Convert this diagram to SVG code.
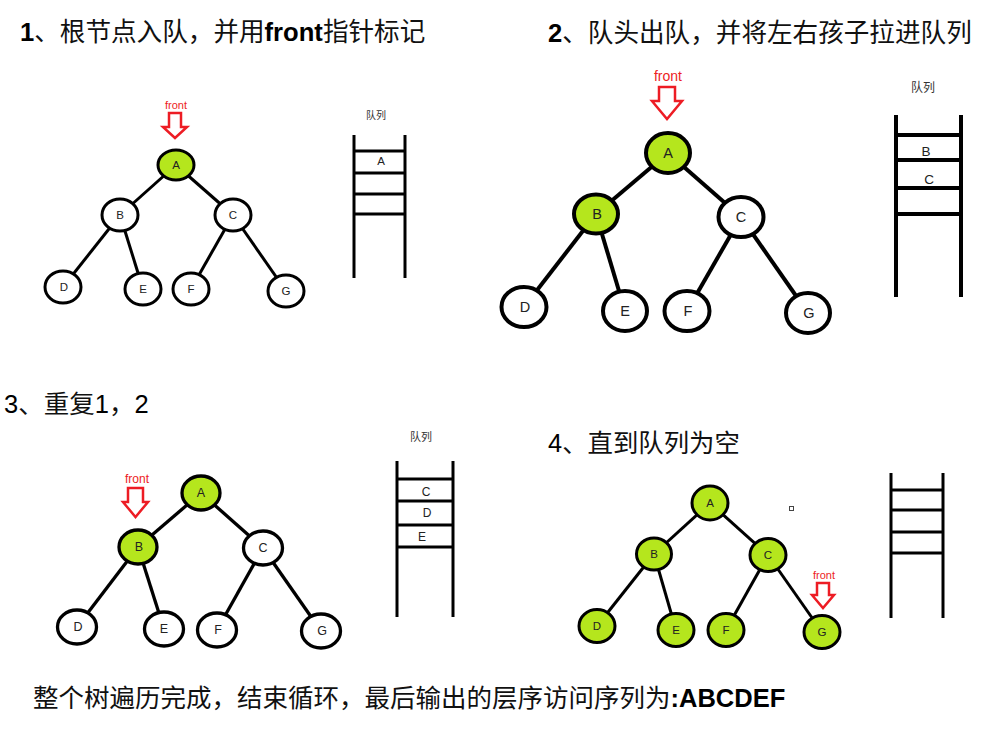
<svg xmlns="http://www.w3.org/2000/svg" width="985" height="735" viewBox="0 0 985 735">
<style>
.t{font-family:"Liberation Sans","Noto Sans CJK SC",sans-serif;fill:#000}
.cj{font-family:"Noto Sans CJK SC","Liberation Sans",sans-serif;fill:#111}
.b{font-weight:bold}
.lbl{font-family:"Liberation Sans","Noto Sans CJK SC",sans-serif;fill:#222;text-anchor:middle}
.ql{font-family:"Noto Sans CJK SC",sans-serif;fill:#333;text-anchor:middle}
.fr{font-family:"Liberation Sans",sans-serif;fill:#ed1c24;text-anchor:middle}
.arr{fill:#fff;stroke:#ed1c24;stroke-width:2.5;stroke-linejoin:miter}
.n{fill:#fff;stroke:#000}
.g{fill:#b5e61d;stroke:#000}
.e{stroke:#000;stroke-linecap:butt}
.q{stroke:#000;fill:none}
</style>
<rect width="985" height="735" fill="#fff"/>

<!-- titles -->
<text class="t" x="20" y="41" font-size="25.6"><tspan class="b">1</tspan><tspan class="cj">、根节点入队，并用</tspan><tspan class="b">front</tspan><tspan class="cj">指针标记</tspan></text>
<text class="t" x="548" y="42" font-size="25.6"><tspan class="b">2</tspan><tspan class="cj">、队头出队，并将左右孩子拉进队列</tspan></text>
<text class="t" x="4" y="413" font-size="25.5">3<tspan class="cj">、重复</tspan>1<tspan class="cj">，</tspan>2</text>
<text class="t" x="548" y="452" font-size="25.4">4<tspan class="cj">、直到队列为空</tspan></text>
<text class="t" x="33" y="707" font-size="25.5"><tspan class="cj">整个树遍历完成，结束循环，最后输出的层序访问序列为</tspan><tspan class="b">:ABCDEF</tspan></text>

<!-- connectors -->
<g id="connectors">
  <g stroke-width="3" class="e">
    <line x1="176" y1="165" x2="120" y2="215"/>
    <line x1="176" y1="165" x2="233" y2="215"/>
    <line x1="120" y1="215" x2="63" y2="287"/>
    <line x1="120" y1="215" x2="143" y2="289"/>
    <line x1="233" y1="215" x2="191" y2="289"/>
    <line x1="233" y1="215" x2="286" y2="291"/>
  </g>
  <g stroke-width="4" class="e">
    <line x1="668" y1="153" x2="596" y2="214"/>
    <line x1="668" y1="153" x2="741" y2="217"/>
    <line x1="596" y1="214" x2="524" y2="307"/>
    <line x1="596" y1="214" x2="625" y2="311"/>
    <line x1="741" y1="217" x2="687" y2="311"/>
    <line x1="741" y1="217" x2="808" y2="313"/>
  </g>
  <g stroke-width="3.3" class="e">
    <line x1="201" y1="493" x2="138" y2="547"/>
    <line x1="201" y1="493" x2="263" y2="548"/>
    <line x1="138" y1="547" x2="77" y2="627"/>
    <line x1="138" y1="547" x2="164" y2="629"/>
    <line x1="263" y1="548" x2="217" y2="630"/>
    <line x1="263" y1="548" x2="321" y2="631"/>
  </g>
  <g stroke-width="3" class="e">
    <line x1="710" y1="503" x2="654" y2="554"/>
    <line x1="710" y1="503" x2="768" y2="555"/>
    <line x1="654" y1="554" x2="597" y2="626"/>
    <line x1="654" y1="554" x2="676" y2="630"/>
    <line x1="768" y1="555" x2="726" y2="630"/>
    <line x1="768" y1="555" x2="822" y2="632"/>
  </g>
</g>

<!-- panel 1 -->
<g id="p1-front">
  <text class="fr" x="176" y="109" font-size="11">front</text>
  <path class="arr" d="M169,113 H181 V127 H187 L175,138 L163,127 H169 Z"/>
</g>
<g id="p1-A"><ellipse class="g" cx="176" cy="165" rx="18" ry="15" stroke-width="3"/><text class="lbl" x="176" y="169" font-size="11.5">A</text></g>
<g id="p1-B"><ellipse class="n" cx="120" cy="215" rx="18" ry="16" stroke-width="3"/><text class="lbl" x="120" y="219" font-size="11.5">B</text></g>
<g id="p1-C"><ellipse class="n" cx="233" cy="215" rx="18" ry="16" stroke-width="3"/><text class="lbl" x="233" y="219" font-size="11.5">C</text></g>
<g id="p1-D"><ellipse class="n" cx="63" cy="287" rx="18" ry="16" stroke-width="3"/><text class="lbl" x="64" y="291" font-size="11.5">D</text></g>
<g id="p1-E"><ellipse class="n" cx="143" cy="289" rx="18" ry="16" stroke-width="3"/><text class="lbl" x="143" y="293" font-size="11.5">E</text></g>
<g id="p1-F"><ellipse class="n" cx="191" cy="289" rx="18" ry="16" stroke-width="3"/><text class="lbl" x="191" y="293" font-size="11.5">F</text></g>
<g id="p1-G"><ellipse class="n" cx="286" cy="291" rx="18" ry="16" stroke-width="3"/><text class="lbl" x="286" y="295" font-size="11.5">G</text></g>
<g id="p1-queue">
  <text class="ql" x="376" y="119" font-size="10">队列</text>
  <g class="q" stroke-width="3">
    <line x1="354" y1="135" x2="354" y2="278"/>
    <line x1="405" y1="135" x2="405" y2="278"/>
    <line x1="354" y1="151" x2="405" y2="151"/>
    <line x1="354" y1="173" x2="405" y2="173"/>
    <line x1="354" y1="194" x2="405" y2="194"/>
    <line x1="354" y1="214" x2="405" y2="214"/>
  </g>
  <text class="lbl" x="381" y="165" font-size="11.5">A</text>
</g>

<!-- panel 2 -->
<g id="p2-front">
  <text class="fr" x="668" y="81" font-size="14">front</text>
  <path class="arr" d="M659,87 H675 V101 H682 L667,119 L652,101 H659 Z"/>
</g>
<g id="p2-A"><ellipse class="g" cx="668" cy="153" rx="22" ry="20" stroke-width="4"/><text class="lbl" x="668" y="158" font-size="14.5">A</text></g>
<g id="p2-B"><ellipse class="g" cx="596" cy="214" rx="22" ry="19.5" stroke-width="4"/><text class="lbl" x="597" y="219" font-size="14.5">B</text></g>
<g id="p2-C"><ellipse class="n" cx="741" cy="217" rx="22.5" ry="20" stroke-width="4"/><text class="lbl" x="741" y="222" font-size="14.5">C</text></g>
<g id="p2-D"><ellipse class="n" cx="524" cy="307" rx="22.5" ry="20" stroke-width="4"/><text class="lbl" x="525" y="312" font-size="14.5">D</text></g>
<g id="p2-E"><ellipse class="n" cx="625" cy="311" rx="22" ry="20" stroke-width="4"/><text class="lbl" x="625" y="316" font-size="14.5">E</text></g>
<g id="p2-F"><ellipse class="n" cx="687" cy="311" rx="22.5" ry="20" stroke-width="4"/><text class="lbl" x="688" y="316" font-size="14.5">F</text></g>
<g id="p2-G"><ellipse class="n" cx="808" cy="313" rx="22" ry="20" stroke-width="4"/><text class="lbl" x="809" y="318" font-size="14.5">G</text></g>
<g id="p2-queue">
  <text class="ql" x="923" y="92" font-size="12">队列</text>
  <g class="q" stroke-width="4">
    <line x1="896" y1="115" x2="896" y2="297"/>
    <line x1="961" y1="115" x2="961" y2="297"/>
    <line x1="896" y1="135" x2="961" y2="135"/>
    <line x1="896" y1="160" x2="961" y2="160"/>
    <line x1="896" y1="188" x2="961" y2="188"/>
    <line x1="896" y1="214" x2="961" y2="214"/>
  </g>
  <text class="lbl" x="926" y="156" font-size="13.5">B</text>
  <text class="lbl" x="929" y="184" font-size="13.5">C</text>
</g>

<!-- panel 3 -->
<g id="p3-front">
  <text class="fr" x="137" y="483" font-size="12">front</text>
  <path class="arr" d="M128,488 H143 V502 H148 L135.5,517 L123,502 H128 Z"/>
</g>
<g id="p3-A"><ellipse class="g" cx="201" cy="493" rx="19" ry="17" stroke-width="3.3"/><text class="lbl" x="201" y="497" font-size="12.5">A</text></g>
<g id="p3-B"><ellipse class="g" cx="138" cy="547" rx="19" ry="17" stroke-width="3.3"/><text class="lbl" x="139" y="551" font-size="12.5">B</text></g>
<g id="p3-C"><ellipse class="n" cx="263" cy="548" rx="19.5" ry="17" stroke-width="3.3"/><text class="lbl" x="263" y="552" font-size="12.5">C</text></g>
<g id="p3-D"><ellipse class="n" cx="77" cy="627" rx="19.5" ry="17" stroke-width="3.3"/><text class="lbl" x="78" y="631" font-size="12.5">D</text></g>
<g id="p3-E"><ellipse class="n" cx="164" cy="629" rx="19.5" ry="17" stroke-width="3.3"/><text class="lbl" x="164" y="633" font-size="12.5">E</text></g>
<g id="p3-F"><ellipse class="n" cx="217" cy="630" rx="19.5" ry="17" stroke-width="3.3"/><text class="lbl" x="218" y="634" font-size="12.5">F</text></g>
<g id="p3-G"><ellipse class="n" cx="321" cy="631" rx="19.5" ry="17" stroke-width="3.3"/><text class="lbl" x="322" y="635" font-size="12.5">G</text></g>
<g id="p3-queue">
  <text class="ql" x="421" y="441" font-size="11">队列</text>
  <g class="q" stroke-width="3">
    <line x1="397" y1="461" x2="397" y2="617"/>
    <line x1="453" y1="461" x2="453" y2="617"/>
    <line x1="397" y1="479" x2="453" y2="479"/>
    <line x1="397" y1="501" x2="453" y2="501"/>
    <line x1="397" y1="525" x2="453" y2="525"/>
    <line x1="397" y1="547" x2="453" y2="547"/>
  </g>
  <text class="lbl" x="426" y="496" font-size="12">C</text>
  <text class="lbl" x="427" y="517" font-size="12">D</text>
  <text class="lbl" x="422" y="541" font-size="12">E</text>
</g>

<!-- panel 4 -->
<g id="p4-A"><ellipse class="g" cx="710" cy="503" rx="18" ry="17" stroke-width="3"/><text class="lbl" x="710" y="507" font-size="11.5">A</text></g>
<g id="p4-B"><ellipse class="g" cx="654" cy="554" rx="17.5" ry="16" stroke-width="3"/><text class="lbl" x="654" y="558" font-size="11.5">B</text></g>
<g id="p4-C"><ellipse class="g" cx="768" cy="555" rx="18" ry="16.5" stroke-width="3"/><text class="lbl" x="768" y="559" font-size="11.5">C</text></g>
<g id="p4-D"><ellipse class="g" cx="597" cy="626" rx="18" ry="16.5" stroke-width="3"/><text class="lbl" x="597" y="630" font-size="11.5">D</text></g>
<g id="p4-E"><ellipse class="g" cx="676" cy="630" rx="18" ry="16.5" stroke-width="3"/><text class="lbl" x="676" y="634" font-size="11.5">E</text></g>
<g id="p4-F"><ellipse class="g" cx="726" cy="630" rx="18" ry="16.5" stroke-width="3"/><text class="lbl" x="726" y="634" font-size="11.5">F</text></g>
<g id="p4-G"><ellipse class="g" cx="822" cy="632" rx="18" ry="16.5" stroke-width="3"/><text class="lbl" x="822" y="636" font-size="11.5">G</text></g>
<g id="p4-front">
  <text class="fr" x="824" y="579" font-size="11">front</text>
  <path class="arr" d="M817,583 H829 V595 H834 L823,608 L812,595 H817 Z"/>
</g>
<rect x="789.5" y="506.5" width="4" height="4" fill="none" stroke="#444" stroke-width="1"/>
<g id="p4-queue">
  <g class="q" stroke-width="3">
    <line x1="891" y1="473" x2="891" y2="618"/>
    <line x1="943" y1="473" x2="943" y2="618"/>
    <line x1="891" y1="490" x2="943" y2="490"/>
    <line x1="891" y1="510" x2="943" y2="510"/>
    <line x1="891" y1="532" x2="943" y2="532"/>
    <line x1="891" y1="553" x2="943" y2="553"/>
  </g>
</g>
</svg>
